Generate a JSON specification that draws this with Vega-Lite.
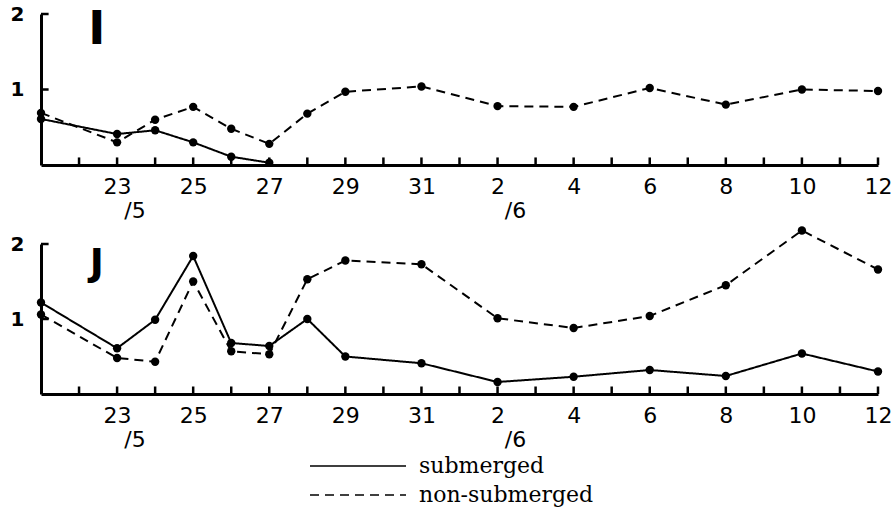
{
  "$schema": "https://vega.github.io/schema/vega-lite/v6.json",
  "background": "white",
  "padding": {"left": 10, "top": 4, "right": 5, "bottom": 5},
  "datasets": {
    "obs": [
      {"panel": "I", "series": "submerged", "day": 21, "value": 0.61},
      {"panel": "I", "series": "submerged", "day": 23, "value": 0.41},
      {"panel": "I", "series": "submerged", "day": 24, "value": 0.46},
      {"panel": "I", "series": "submerged", "day": 25, "value": 0.30},
      {"panel": "I", "series": "submerged", "day": 26, "value": 0.11},
      {"panel": "I", "series": "submerged", "day": 27, "value": 0.03},
      {"panel": "I", "series": "non-submerged", "day": 21, "value": 0.69},
      {"panel": "I", "series": "non-submerged", "day": 23, "value": 0.30},
      {"panel": "I", "series": "non-submerged", "day": 24, "value": 0.60},
      {"panel": "I", "series": "non-submerged", "day": 25, "value": 0.77},
      {"panel": "I", "series": "non-submerged", "day": 26, "value": 0.48},
      {"panel": "I", "series": "non-submerged", "day": 27, "value": 0.28},
      {"panel": "I", "series": "non-submerged", "day": 28, "value": 0.68},
      {"panel": "I", "series": "non-submerged", "day": 29, "value": 0.97},
      {"panel": "I", "series": "non-submerged", "day": 31, "value": 1.04},
      {"panel": "I", "series": "non-submerged", "day": 33, "value": 0.78},
      {"panel": "I", "series": "non-submerged", "day": 35, "value": 0.77},
      {"panel": "I", "series": "non-submerged", "day": 37, "value": 1.02},
      {"panel": "I", "series": "non-submerged", "day": 39, "value": 0.80},
      {"panel": "I", "series": "non-submerged", "day": 41, "value": 1.00},
      {"panel": "I", "series": "non-submerged", "day": 43, "value": 0.98},
      {"panel": "J", "series": "submerged", "day": 21, "value": 1.22},
      {"panel": "J", "series": "submerged", "day": 23, "value": 0.61},
      {"panel": "J", "series": "submerged", "day": 24, "value": 0.99},
      {"panel": "J", "series": "submerged", "day": 25, "value": 1.84},
      {"panel": "J", "series": "submerged", "day": 26, "value": 0.68},
      {"panel": "J", "series": "submerged", "day": 27, "value": 0.64},
      {"panel": "J", "series": "submerged", "day": 28, "value": 1.00},
      {"panel": "J", "series": "submerged", "day": 29, "value": 0.50},
      {"panel": "J", "series": "submerged", "day": 31, "value": 0.41},
      {"panel": "J", "series": "submerged", "day": 33, "value": 0.16},
      {"panel": "J", "series": "submerged", "day": 35, "value": 0.23},
      {"panel": "J", "series": "submerged", "day": 37, "value": 0.32},
      {"panel": "J", "series": "submerged", "day": 39, "value": 0.24},
      {"panel": "J", "series": "submerged", "day": 41, "value": 0.54},
      {"panel": "J", "series": "submerged", "day": 43, "value": 0.30},
      {"panel": "J", "series": "non-submerged", "day": 21, "value": 1.06},
      {"panel": "J", "series": "non-submerged", "day": 23, "value": 0.48},
      {"panel": "J", "series": "non-submerged", "day": 24, "value": 0.43},
      {"panel": "J", "series": "non-submerged", "day": 25, "value": 1.50},
      {"panel": "J", "series": "non-submerged", "day": 26, "value": 0.57},
      {"panel": "J", "series": "non-submerged", "day": 27, "value": 0.53},
      {"panel": "J", "series": "non-submerged", "day": 28, "value": 1.53},
      {"panel": "J", "series": "non-submerged", "day": 29, "value": 1.78},
      {"panel": "J", "series": "non-submerged", "day": 31, "value": 1.73},
      {"panel": "J", "series": "non-submerged", "day": 33, "value": 1.01},
      {"panel": "J", "series": "non-submerged", "day": 35, "value": 0.88},
      {"panel": "J", "series": "non-submerged", "day": 37, "value": 1.04},
      {"panel": "J", "series": "non-submerged", "day": 39, "value": 1.45},
      {"panel": "J", "series": "non-submerged", "day": 41, "value": 2.18},
      {"panel": "J", "series": "non-submerged", "day": 43, "value": 1.66}
    ],
    "labels": [
      {"panel": "I", "day": 22.47, "value": 1.79, "text": "I"},
      {"panel": "J", "day": 22.47, "value": 1.73, "text": "J"}
    ],
    "xticks": [
      {"day": 22}, {"day": 23}, {"day": 24}, {"day": 25}, {"day": 26}, {"day": 27}, {"day": 28}, {"day": 29},
      {"day": 30}, {"day": 31}, {"day": 32}, {"day": 33}, {"day": 34}, {"day": 35}, {"day": 36}, {"day": 37},
      {"day": 38}, {"day": 39}, {"day": 40}, {"day": 41}, {"day": 42}, {"day": 43}
    ],
    "yticks": [{"value": 1}, {"value": 2}]
  },
  "spacing": 5,
  "vconcat": [
    {
      "width": 837,
      "height": 151,
      "layer": [
        {
          "data": {"name": "obs"},
          "transform": [{"filter": "datum.panel === 'I'"}],
          "mark": {"type": "line", "color": "black", "strokeWidth": 2},
          "encoding": {
            "x": {"field": "day", "type": "quantitative", "scale": {"domain": [21, 43], "nice": false, "zero": false},
              "axis": {"values": [23,25,27,29,31,33,35,37,39,41,43], "ticks": false,
                "labelExpr": "datum.value == 23 ? ['23', '\u200b\u00a0\u00a0\u00a0\u00a0\u00a0/5'] : datum.value == 33 ? ['2', '\u200b\u00a0\u00a0\u00a0\u00a0\u00a0/6'] : datum.value <= 31 ? '' + datum.value : '' + (datum.value - 31)",
                "title": null}},
            "y": {"field": "value", "type": "quantitative", "scale": {"domain": [0, 2], "nice": false},
              "axis": {"values": [1, 2], "ticks": false, "labelExpr": "'' + datum.value", "title": null}},
            "strokeDash": {"field": "series", "type": "nominal",
              "scale": {"domain": ["submerged", "non-submerged"], "range": [[1, 0], [9, 6]]},
              "legend": {"orient": "none", "legendX": 304, "legendY": 439, "title": null}}
          }
        },
        {
          "data": {"name": "obs"},
          "transform": [{"filter": "datum.panel === 'I'"}],
          "mark": {"type": "point", "filled": true, "color": "black", "size": 70, "opacity": 1},
          "encoding": {
            "x": {"field": "day", "type": "quantitative"},
            "y": {"field": "value", "type": "quantitative"}
          }
        },
        {
          "data": {"name": "xticks"},
          "mark": {"type": "rule", "color": "black", "strokeWidth": 2.5},
          "encoding": {
            "x": {"field": "day", "type": "quantitative"},
            "y": {"datum": 0},
            "y2": {"datum": 0.1}
          }
        },
        {
          "data": {"name": "yticks"},
          "mark": {"type": "rule", "color": "black", "strokeWidth": 2.5},
          "encoding": {
            "y": {"field": "value", "type": "quantitative"},
            "x": {"datum": 21},
            "x2": {"datum": 21.2}
          }
        },
        {
          "data": {"name": "labels"},
          "transform": [{"filter": "datum.panel === 'I'"}],
          "mark": {"type": "text", "font": "DejaVu Sans", "fontWeight": "bold", "fontSize": 46, "color": "black", "baseline": "middle", "align": "center"},
          "encoding": {
            "x": {"field": "day", "type": "quantitative"},
            "y": {"field": "value", "type": "quantitative"},
            "text": {"field": "text"}
          }
        }
      ]
    },
    {
      "width": 837,
      "height": 150,
      "layer": [
        {
          "data": {"name": "obs"},
          "transform": [{"filter": "datum.panel === 'J'"}],
          "mark": {"type": "line", "color": "black", "strokeWidth": 2},
          "encoding": {
            "x": {"field": "day", "type": "quantitative", "scale": {"domain": [21, 43], "nice": false, "zero": false},
              "axis": {"values": [23,25,27,29,31,33,35,37,39,41,43], "ticks": false,
                "labelExpr": "datum.value == 23 ? ['23', '\u200b\u00a0\u00a0\u00a0\u00a0\u00a0/5'] : datum.value == 33 ? ['2', '\u200b\u00a0\u00a0\u00a0\u00a0\u00a0/6'] : datum.value <= 31 ? '' + datum.value : '' + (datum.value - 31)",
                "title": null}},
            "y": {"field": "value", "type": "quantitative", "scale": {"domain": [0, 2], "nice": false},
              "axis": {"values": [1, 2], "ticks": false, "labelExpr": "'' + datum.value", "title": null}},
            "strokeDash": {"field": "series", "type": "nominal",
              "scale": {"domain": ["submerged", "non-submerged"], "range": [[1, 0], [9, 6]]},
              "legend": {"orient": "none", "legendX": 304, "legendY": 439, "title": null}}
          }
        },
        {
          "data": {"name": "obs"},
          "transform": [{"filter": "datum.panel === 'J'"}],
          "mark": {"type": "point", "filled": true, "color": "black", "size": 70, "opacity": 1},
          "encoding": {
            "x": {"field": "day", "type": "quantitative"},
            "y": {"field": "value", "type": "quantitative"}
          }
        },
        {
          "data": {"name": "xticks"},
          "mark": {"type": "rule", "color": "black", "strokeWidth": 2.5},
          "encoding": {
            "x": {"field": "day", "type": "quantitative"},
            "y": {"datum": 0},
            "y2": {"datum": 0.1}
          }
        },
        {
          "data": {"name": "yticks"},
          "mark": {"type": "rule", "color": "black", "strokeWidth": 2.5},
          "encoding": {
            "y": {"field": "value", "type": "quantitative"},
            "x": {"datum": 21},
            "x2": {"datum": 21.2}
          }
        },
        {
          "data": {"name": "labels"},
          "transform": [{"filter": "datum.panel === 'J'"}],
          "mark": {"type": "text", "font": "DejaVu Sans", "fontWeight": "bold", "fontSize": 38, "color": "black", "baseline": "middle", "align": "center"},
          "encoding": {
            "x": {"field": "day", "type": "quantitative"},
            "y": {"field": "value", "type": "quantitative"},
            "text": {"field": "text"}
          }
        }
      ]
    }
  ],
  "config": {
    "view": {"stroke": null},
    "axis": {
      "grid": false,
      "domainColor": "black",
      "domainWidth": 3,
      "tickColor": "black",
      "tickWidth": 2,
      "labelColor": "black",
      "labelFont": "DejaVu Sans",
      "labelOverlap": false,
      "labelFlush": false,
      "labelBound": false
    },
    "axisX": {"labelPadding": 11, "labelFontSize": 22, "labelLineHeight": 24, "labelBaseline": "top"},
    "axisY": {"labelPadding": 17, "labelFontWeight": "bold", "labelFontSize": 20},
    "legend": {
      "symbolType": "M-4,0H4",
      "symbolSize": 576,
      "symbolStrokeWidth": 1.5,
      "symbolStrokeColor": "black",
      "symbolFillColor": "transparent",
      "labelFont": "DejaVu Serif",
      "labelFontSize": 22,
      "labelColor": "black",
      "labelOffset": 48,
      "labelLimit": 400,
      "rowPadding": 5
    }
  }
}
